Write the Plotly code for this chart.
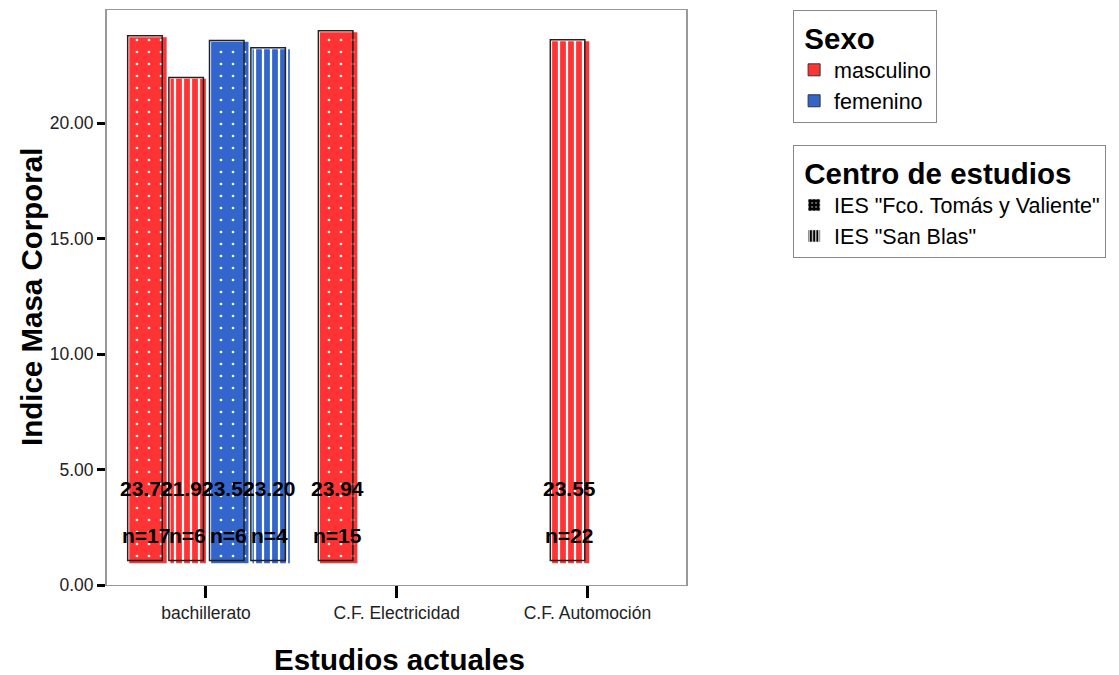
import plotly.graph_objects as go

# ---- data ----
categories = ["bachillerato", "C.F. Electricidad", "C.F. Automoción"]
masc_fco = [23.72, 23.94, None]
masc_sanblas = [21.92, None, 23.55]
fem_fco = [23.52, None, None]
fem_sanblas = [23.20, None, None]
n_masc_fco = [17, 15, None]
n_masc_sanblas = [6, None, 22]
n_fem_fco = [6, None, None]
n_fem_sanblas = [4, None, None]
bar_base = 1.0

x_title = "Estudios actuales"
y_title = "Indice Masa Corporal"

RED = "#FF3333"
BLUE = "#3366CC"
FONT = "Arial, Liberation Sans, sans-serif"

# layout / style constants
X_RANGE = [-0.519, 2.517]
PLOT_W = 1119 - 107 - 433
PX_PER_UNIT = PLOT_W / (X_RANGE[1] - X_RANGE[0])
FILL_W = 0.196
FRAME_W = 0.181
FILL_DX = 0.0084      # shadow shift to the right (category units)
FILL_DROP = 0.06      # shadow shift down (value units)
FRAME_LIFT = 0.06     # frame shift up (value units)
VALUE_LABEL_Y = 4.2
N_LABEL_Y = 2.15

series = [
    (masc_fco, n_masc_fco, RED, ".", -0.320),
    (masc_sanblas, n_masc_sanblas, RED, "|", -0.104),
    (fem_fco, n_fem_fco, BLUE, ".", 0.109),
    (fem_sanblas, n_fem_sanblas, BLUE, "|", 0.326),
]

fig = go.Figure()
annotations = []

for vals, ns, col, shp, center in series:
    if shp == ".":
        pat = dict(shape=".", fgcolor="white", bgcolor=col, size=12, solidity=0.04, fillmode="replace")
    else:
        pat = dict(shape="|", fgcolor="white", bgcolor=col, size=8, solidity=0.28, fillmode="replace")
    frame_off = center - FRAME_W / 2
    fill_off = frame_off + FILL_DX
    fill_len = [None if v is None else v - (bar_base - FILL_DROP) for v in vals]
    frame_len = [None if v is None else v - bar_base for v in vals]
    # filled (shadow) bar
    fig.add_trace(go.Bar(
        x=categories, y=fill_len, base=bar_base - FILL_DROP, width=FILL_W, offset=fill_off,
        marker=dict(color=col, pattern=pat, line=dict(width=0)),
        showlegend=False, hoverinfo="skip",
    ))
    # frame
    fig.add_trace(go.Bar(
        x=categories, y=frame_len, base=bar_base + FRAME_LIFT, width=FRAME_W, offset=frame_off,
        marker=dict(color="rgba(0,0,0,0)", line=dict(color="#222222", width=1.5)),
        showlegend=False, hoverinfo="skip",
    ))
    shift = (fill_off + FILL_W / 2) * PX_PER_UNIT - 1.5
    for cat, v, n in zip(categories, vals, ns):
        if v is None:
            continue
        annotations.append(dict(x=cat, y=VALUE_LABEL_Y, xref="x", yref="y", xshift=shift,
                                text=f"{v:.2f}", showarrow=False,
                                font=dict(family=FONT, size=21, color="black", weight="bold")))
        annotations.append(dict(x=cat, y=N_LABEL_Y, xref="x", yref="y", xshift=shift,
                                text=f"n={n}", showarrow=False,
                                font=dict(family=FONT, size=21, color="black", weight="bold")))

# axis titles
annotations.append(dict(x=0.506, y=-0.1304, xref="paper", yref="paper", text=x_title,
                        showarrow=False, xanchor="center", yanchor="middle",
                        font=dict(family=FONT, size=29.5, color="black", weight="bold")))
annotations.append(dict(x=-0.1295, y=0.5009, xref="paper", yref="paper", text=y_title,
                        showarrow=False, xanchor="center", yanchor="middle", textangle=-90,
                        font=dict(family=FONT, size=29.5, color="black", weight="bold")))

# legend entries
fig.add_trace(go.Bar(x=[None], y=[None], name="masculino",
                     marker=dict(color=RED, line=dict(color="#333", width=1)), legend="legend"))
fig.add_trace(go.Bar(x=[None], y=[None], name="femenino",
                     marker=dict(color=BLUE, line=dict(color="#333", width=1)), legend="legend"))
fig.add_trace(go.Bar(x=[None], y=[None], name='IES "Fco. Tomás y Valiente"',
                     marker=dict(color="black", pattern=dict(shape=".", fgcolor="white", bgcolor="black",
                                                             size=5, solidity=0.1, fillmode="replace")),
                     legend="legend2"))
fig.add_trace(go.Bar(x=[None], y=[None], name='IES "San Blas"',
                     marker=dict(color="black", pattern=dict(shape="|", fgcolor="white", bgcolor="black",
                                                             size=4, solidity=0.35, fillmode="replace")),
                     legend="legend2"))

fig.update_layout(
    width=1119, height=675,
    margin=dict(l=107, r=433, t=10, b=90, autoexpand=False),
    paper_bgcolor="white", plot_bgcolor="white",
    barmode="overlay",
    font=dict(family=FONT, color="black"),
    annotations=annotations,
    xaxis=dict(
        type="category", range=X_RANGE, automargin=False,
        showline=True, linecolor="#999999", linewidth=1, mirror=True,
        ticks="outside", ticklen=12, tickwidth=3, tickcolor="black",
        tickfont=dict(size=17.5, color="#222"), showgrid=False, zeroline=False,
    ),
    yaxis=dict(
        range=[0, 24.9], dtick=5, tickformat=".2f", automargin=False,
        showline=True, linecolor="#999999", linewidth=2, mirror=True,
        ticks="outside", ticklen=8, tickwidth=3, tickcolor="black",
        tickfont=dict(size=17.5, color="#222"), showgrid=False, zeroline=False,
    ),
    legend=dict(
        x=1.185, y=1.0, xanchor="left", yanchor="top",
        bordercolor="#888888", borderwidth=1, bgcolor="white",
        title=dict(text="<b>\u00a0Sexo</b>", font=dict(size=29.5)),
        font=dict(size=21.5), tracegroupgap=0,
    ),
    legend2=dict(
        x=1.185, y=0.765, xanchor="left", yanchor="top",
        bordercolor="#888888", borderwidth=1, bgcolor="white",
        title=dict(text="<b>\u00a0Centro de estudios</b>", font=dict(size=29.5)),
        font=dict(size=21.5), tracegroupgap=0,
    ),
)

fig.write_html("out.html")
